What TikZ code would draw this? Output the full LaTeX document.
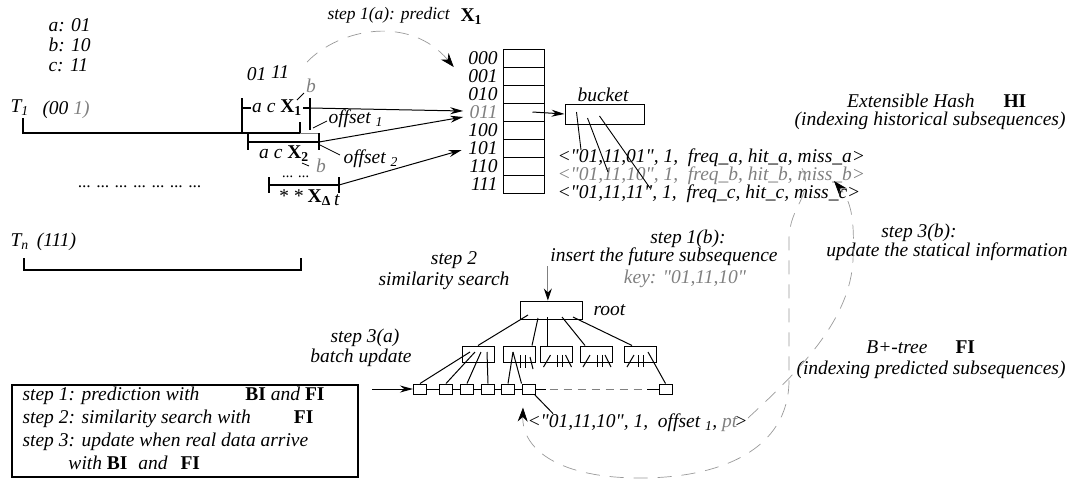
\documentclass[tikz,border=0pt]{standalone}
\usepackage{fontspec}
\setmainfont{Liberation Serif}[Ligatures=TeXOff]
\usetikzlibrary{arrows.meta, positioning, calc}

\newcommand{\bx}[1]{{\upshape\bfseries #1}}

\begin{document}
\begin{tikzpicture}[x=1pt, y=-1pt, line width=1pt,
  every node/.style={font=\fontsize{19.5}{20}\selectfont\itshape, inner sep=0pt},
  faded/.style={text=gray},
  cell/.style={draw, minimum width=41pt, minimum height=18pt},
  tbox/.style={draw, minimum width=32pt, minimum height=16pt},
  leaf/.style={draw, minimum width=13pt, minimum height=10pt},
  win/.style={line width=1.1pt},
  hashar/.style={-{Stealth[length=13pt, width=7pt]}},
  flow/.style={draw=gray!80, line width=0.7pt, dash pattern=on 14pt off 10pt},
  flowtip/.style={-{Stealth[length=14pt, width=10pt, color=black]}}]

  \useasboundingbox (0,0) rectangle (1076,480);

  % Code table
  \node[anchor=west, align=left] (codes) at (48,45) {a: 01\\b: 10\\c: 11};

  % Series T_1
  \node[anchor=west] (t1) at (10,108) {T\textsubscript{1}};
  \node[anchor=west] (t1v) at (42,110) {(00 \textcolor{gray}{1)}};
  \draw[line width=2.5pt] (23,118) -- (23,133) -- (300,133) -- (300,122);
  \draw[gray] (300,133) -- (318,133);
  \node (pat) at (268,73) {01 \raisebox{2pt}{11}};

  % Window X_1
  \draw[win] (242,98) -- (242,133);
  \draw[win] (310,98) -- (310,130);
  \draw[win] (242,108) -- (310,108);
  \node[fill=white, inner sep=1pt] (x1) at (277,108) {a c \bx{X\textsubscript{1}}};
  \node[faded] (b1) at (311,86) {b};
  \draw[line width=0.8pt] (297,100) -- (304,93);
  \draw[line width=0.8pt] (313,128) -- (327,121);
  \node[anchor=west] (o1) at (328,119) {offset \textsubscript{1}};

  % Window X_2
  \draw[win] (248,133) -- (248,150);
  \draw[win] (319,133) -- (319,150);
  \draw[win] (248,142) -- (319,142);
  \node (x2) at (284,154) {a c \bx{X\textsubscript{2}}};
  \draw[line width=0.8pt] (320,145) -- (340,155);
  \node[anchor=west] (o2) at (343,159) {offset \textsubscript{2}};
  \node[faded] (b2) at (321,166) {b};
  \draw[line width=0.8pt] (302,163) -- (309,166);
  \node[font=\fontsize{15}{16}\selectfont\itshape] (dd) at (296,177) {... ...};

  % Window X_Delta t
  \draw[win] (269,177) -- (269,193);
  \draw[win] (339,177) -- (339,193);
  \draw[win] (269,185) -- (339,185);
  \node (xd) at (309,198) {* * \bx{X\textsubscript{Δ}}\,\raisebox{-3pt}{t}};
  \node[font=\fontsize{17}{18}\selectfont\itshape] (dots) at (140,187) {... ... ... ... ... ... ...};

  % Series T_n
  \node[anchor=west] (tn) at (10,242) {T\textsubscript{n}\, (111)};
  \draw[line width=2.5pt] (24,258) -- (24,270) -- (301,270) -- (301,258);

  % Hash directory
  \foreach \k/\b/\c in {0/000/black,1/001/black,2/010/black,3/011/gray,
                        4/100/black,5/101/black,6/110/black,7/111/black} {
    \node[cell] (h\k) at (523.5,58+18*\k) {};
    \node[anchor=east, text=\c] (l\k) at (498,58+18*\k) {\b};
  }

  % Windows into the directory
  \coordinate (x1r) at (310,108);
  \coordinate (x2r) at (319,142);
  \coordinate (xdr) at (339,185);
  \draw[hashar] (x1r) -- ([xshift=-6pt, yshift=1pt]l3.west);
  \draw[hashar] (x2r) -- ([xshift=-6pt, yshift=-5pt]l3.west);
  \draw[hashar] (xdr) -- ([xshift=-6pt, yshift=-2pt]l5.west);

  % step 1(a)
  \node[anchor=west, font=\fontsize{17.5}{20}\selectfont\itshape] (s1a) at (327,15) {step 1(a): predict};
  \node[anchor=west] (px) at (460,17) {\bx{X\textsubscript{1}}};
  \coordinate (pfrom) at (307,62);
  \draw[flow, flowtip] (pfrom) .. controls (340,28) and (410,15) .. ([xshift=-14pt, yshift=-9pt]l0.west);

  % Bucket
  \node[draw, minimum width=79pt, minimum height=20pt] (bucket) at (604.5,114) {};
  \node (bucketl) at (603,95) {bucket};
  \draw[hashar] ([xshift=9pt]h3.center) -- (bucket.west);
  \node[anchor=west] (e1) at (557,158) {<"01,11,01", 1,\ \ freq\_a, hit\_a, miss\_a>};
  \node[anchor=west, faded] (e2) at (557,176) {<"01,11,10", 1,\ \ freq\_b, hit\_b, miss\_b>};
  \node[anchor=west] (e3) at (557,194) {<"01,11,11", 1,\ \ freq\_c, hit\_c, miss\_c>};
  \draw[line width=0.9pt] ([xshift=-28pt, yshift=2pt]bucket.center) -- ([xshift=24pt, yshift=8pt]e1.west);
  \draw[line width=0.9pt] ([xshift=-17pt, yshift=-4pt]bucket.center) -- ([xshift=51pt, yshift=4pt]e2.west);
  \draw[line width=0.9pt] ([xshift=-5pt, yshift=-2pt]bucket.center) -- ([xshift=93pt, yshift=6pt]e3.west);

  \node[anchor=east] (eh) at (975,101) {Extensible Hash};
  \node[anchor=west] (hi) at (1003,101) {\bx{HI}};
  \node[anchor=east] (ehs) at (1066,121) {(indexing historical subsequences)};

  % Step labels
  \node (s1b) at (688,239) {step 1(b):};
  \node (ins) at (664,257) {insert the future subsequence};
  \node[faded] (key) at (685,279) {key: "01,11,10"};
  \node (s3b) at (919,233) {step 3(b):};
  \node (upd) at (947,252) {update the statical information};
  \node (s2) at (454,260) {step 2};
  \node (sim) at (444,281) {similarity search};

  % B+-tree
  \node[draw, minimum width=62pt, minimum height=18pt] (root) at (551,310) {};
  \node[anchor=west] (rootl) at (593,310) {root};
  \draw[gray, line width=0.8pt, -{Stealth[length=12pt, width=8pt, color=black]}]
    ([xshift=-2pt]ins.south west) -- ([xshift=-2pt]ins.south west |- root.north);
  \foreach \i/\x in {1/478,2/519,3/556.5,4/596,5/640}
    \node[tbox] (n\i) at (\x,354) {};
  \draw ($(root.center)+(-23,5)$) -- (n1.north);
  \draw ($(root.center)+(-13,8)$) -- ([xshift=13pt]n2.north);
  \draw ($(root.center)+(-4,7)$) -- ([xshift=-9.5pt]n3.north);
  \draw ($(root.center)+(11,7)$) -- ([xshift=-11pt]n4.north);
  \draw ($(root.center)+(22,7)$) -- ([xshift=-8pt]n5.north);

  \foreach \i/\x in {1/420,2/446,3/467,4/488,5/508,6/528.5}
    \node[leaf] (f\i) at (\x,389) {};
  \node[leaf] (f7) at (665.5,389) {};
  \foreach \i/\j in {1/2,2/3,3/4,4/5,5/6}
    \draw (f\i.east) -- (f\j.west);
  \draw[gray, dash pattern=on 8pt off 6pt] (f6.east) -- (f7.west);
  \draw (f6.east) -- ++(10,0);
  \draw (f7.west) -- ++(-12,0);

  % pointers of the inner nodes
  \draw ($(n1.center)+(-8,-2)$) -- (f1.north);
  \draw ($(n1.center)+(-3,-2)$) -- (f2.north);
  \draw ($(n1.center)+(3,-2)$) -- (f3.north);
  \draw ($(n1.center)+(9,-2)$) -- (f4.north);
  \draw ($(n2.center)+(-6,-2)$) -- (f5.north);
  \draw ($(n2.center)+(-6,-2)$) -- (f6.north west);
  \draw ($(n2.center)+(1,1)$) -- ($(n2.center)+(1,14)$);
  \draw ($(n2.center)+(6,1)$) -- ($(n2.center)+(6,14)$);
  \draw ($(n2.center)+(11,3)$) -- ($(n2.center)+(14,15)$);
  \foreach \n in {n3,n4} {
    \draw ($(\n.center)+(-13,13)$) -- ($(\n.center)+(-6,1)$);
    \draw ($(\n.center)+(1,1)$) -- ($(\n.center)+(1,13)$);
    \draw ($(\n.center)+(6,1)$) -- ($(\n.center)+(6,13)$);
    \draw ($(\n.center)+(9,1)$) -- ($(\n.center)+(15,13)$);
  }
  \draw ($(n5.center)+(-13,13)$) -- ($(n5.center)+(-6,1)$);
  \draw ($(n5.center)+(-2,1)$) -- ($(n5.center)+(-2,13)$);
  \draw ($(n5.center)+(3,1)$) -- ($(n5.center)+(3,13)$);
  \draw ($(n5.center)+(8,-2)$) -- (f7.north);

  % step 3(a)
  \node (s3a) at (365,338) {step 3(a)};
  \node (bu) at (361,358) {batch update};
  \coordinate (bin) at (372,389);
  \draw[hashar] (bin) -- (f1.west);

  % Leaf entry
  \node[anchor=west] (pe) at (527,423) {<"01,11,10", 1,\ \ offset \textsubscript{1}, \textcolor{gray}{pt}\kern-3pt>};
  \draw ([xshift=-1pt]f6.south east) -- ([xshift=26pt]pe.north west);

  \node[anchor=east] (bt) at (928,347) {B+-tree};
  \node[anchor=west] (fi) at (955,347) {\bx{FI}};
  \node[anchor=east] (bts) at (1066,370) {(indexing predicted subsequences)};

  % step 1(b): hash entry into the tree
  \coordinate (insfrom) at (802,168);
  \draw[flow, flowtip] (insfrom) .. controls (815,195) and (789,205) .. (789,240) -- (789,380)
    .. controls (789,450) and (720,478) .. (640,478)
    .. controls (560,478) and (522,450) .. ([xshift=-4pt, yshift=6pt]pe.north west);

  % step 3(b): tree entry back to the hash
  \coordinate (updto) at (834,181);
  \draw[flow, flowtip] ([yshift=5pt]pe.east) .. controls (800,370) and (850,320) .. (853,260)
    .. controls (855,215) and (850,200) .. (updto);

  % Legend
  \node[draw, line width=2.2pt, minimum width=346pt, minimum height=92pt] (legend) at (185,431) {};
  \node[anchor=north west, align=left, font=\fontsize{19.5}{23.3}\selectfont\itshape] (legtxt) at (22,386)
    {step 1: prediction with\hspace{46pt}\bx{BI} and \bx{FI}\\
     step 2: similarity search with\hspace{43pt}\bx{FI}\\
     step 3: update when real data arrive\\
     \hspace{46pt}with \bx{BI}\hspace{6pt} and\hspace{8pt} \bx{FI}};

\end{tikzpicture}
\end{document}
